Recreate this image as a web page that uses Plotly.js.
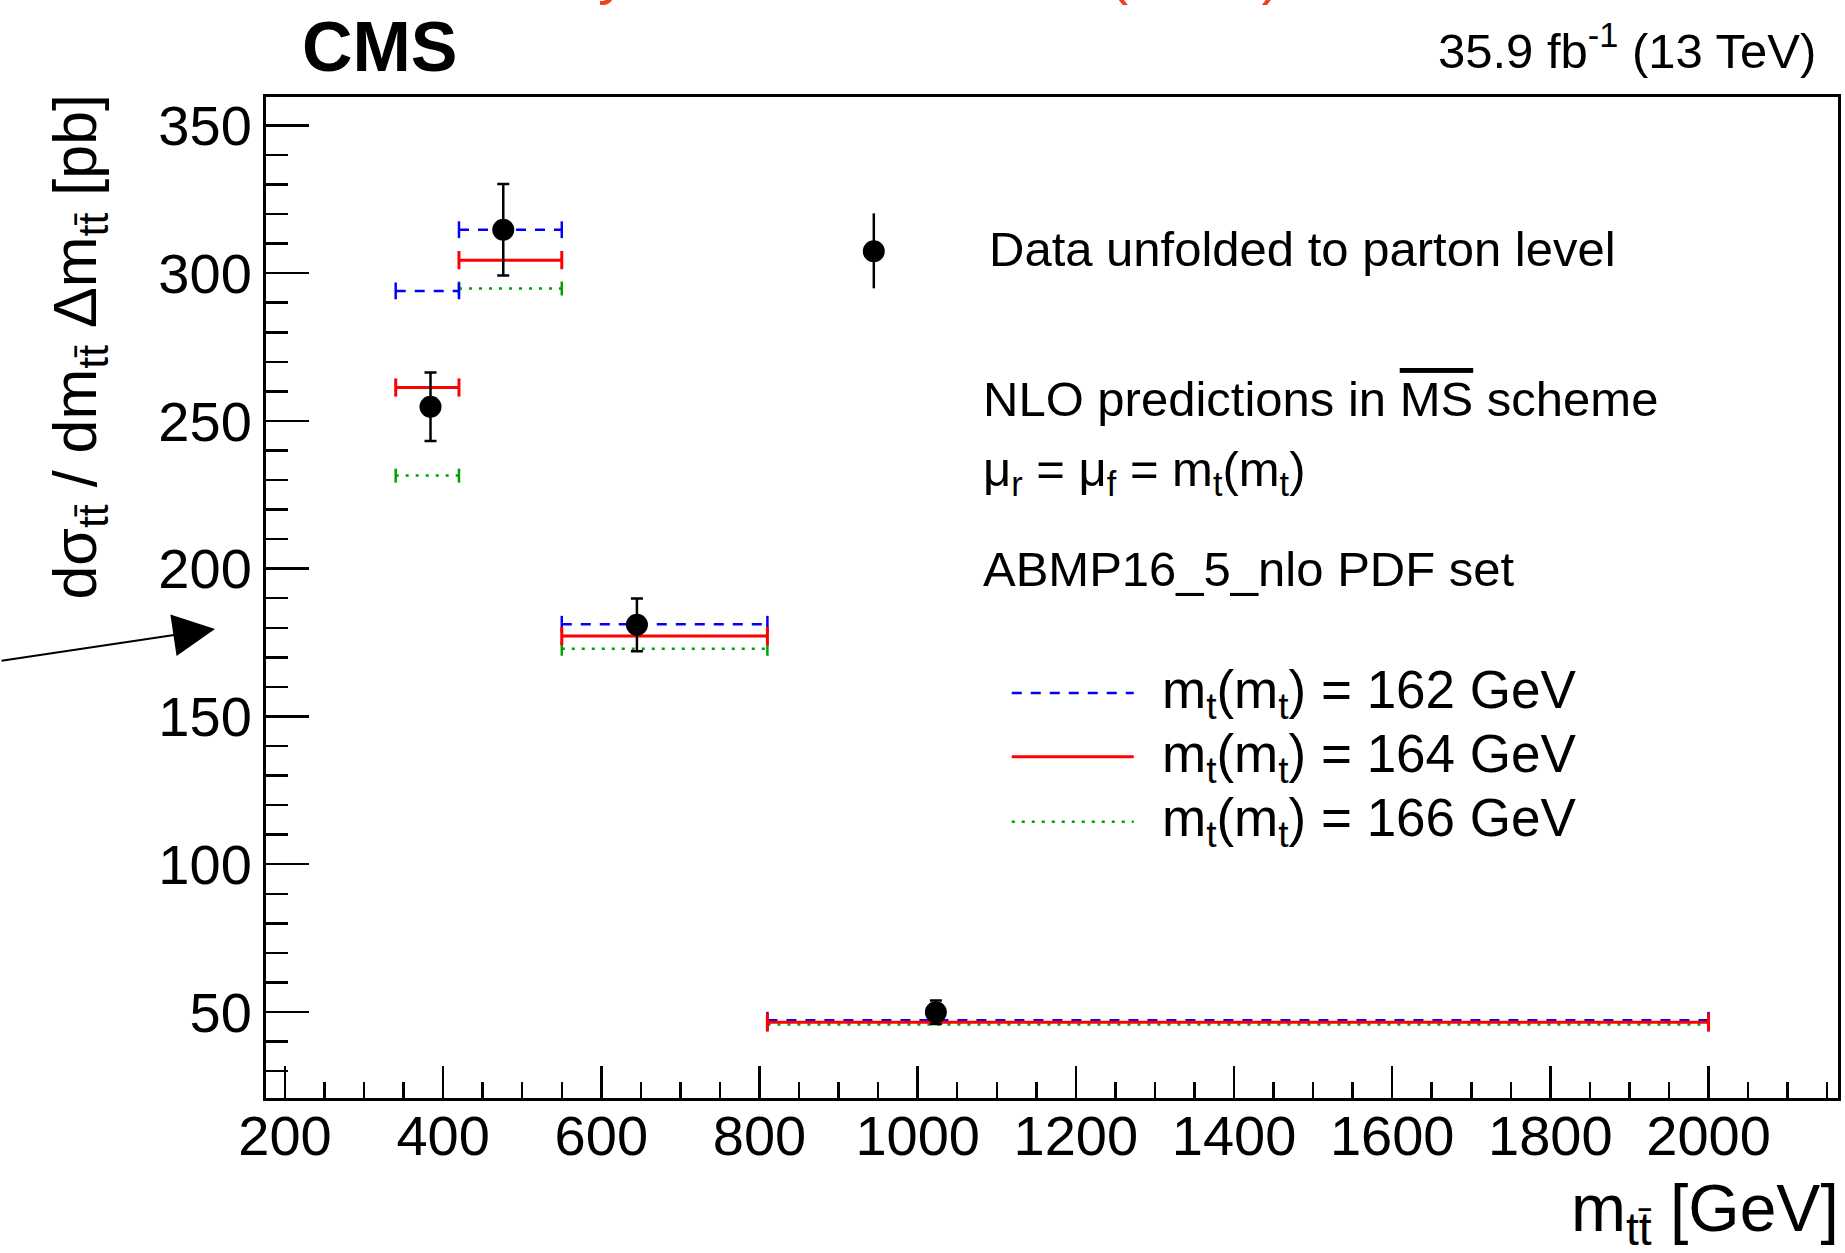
<!DOCTYPE html>
<html>
<head>
<meta charset="utf-8">
<script src="https://cdn.plot.ly/plotly-3.0.1.min.js"></script>
<style>
  html, body { margin: 0; padding: 0; background: #fff; }
  #chart { width: 1845px; height: 1253px; }
</style>
</head>
<body>
<div id="chart"></div>
<script>
// ---- data ----
const binLow  = [340, 420, 550, 810];
const binHigh = [420, 550, 810, 2000];
const dataX   = [384, 476, 645, 1023];
const dataY   = [254.8, 314.7, 181.0, 49.9];
const dataErr = [11.6, 15.5, 8.9, 4.0];
const pred162 = [294.0, 314.7, 181.2, 47.2];
const pred164 = [261.3, 304.4, 177.2, 46.5];
const pred166 = [231.5, 294.8, 172.9, 45.8];
const xTickVals = [200, 400, 600, 800, 1000, 1200, 1400, 1600, 1800, 2000];
const yTickVals = [50, 100, 150, 200, 250, 300, 350];

const FONT = 'Liberation Sans, Arial, Helvetica, sans-serif';
const TT = 't' + 't\u0304';

function binSegments(vals) {
  const xs = [], ys = [];
  for (let i = 0; i < vals.length; i++) {
    xs.push(binLow[i], binHigh[i], null);
    ys.push(vals[i], vals[i], null);
  }
  return {xs, ys};
}

function predTrace(vals, color, dash, width, capSize) {
  const s = binSegments(vals);
  return {
    type: 'scatter', mode: 'lines+markers', x: s.xs, y: s.ys,
    line: {color: color, width: width, dash: dash},
    marker: {symbol: 'line-ns-open', size: capSize, color: color, line: {color: color, width: width}},
    hoverinfo: 'skip', showlegend: false, cliponaxis: false
  };
}

const traces = [
  predTrace(pred166, '#00a000', '3px,7px', 2.5, 10),
  predTrace(pred162, '#0000ff', '10px,9px', 2.5, 12),
  predTrace(pred164, '#ff0000', 'solid', 3, 13),
  {
    type: 'scatter', mode: 'markers', x: dataX, y: dataY,
    marker: {symbol: 'circle', size: 22, color: '#000'},
    error_y: {type: 'data', array: dataErr, visible: true, color: '#000', thickness: 2.5, width: 6},
    hoverinfo: 'skip', showlegend: false
  }
];

// plot-area geometry (pixels) used for paper-coordinate placement of decorations
const L = 266, R = 1838.5, T = 96.5, B = 1098.5;
const px = X => (X - L) / (R - L);
const py = Y => (B - Y) / (B - T);

const annotations = [
  // truncated red heading at the very top of the picture
  {text: 'Sensitivity of cross sections (CMS)', xref: 'paper', yref: 'paper', x: px(356), y: py(7), xanchor: 'left', yanchor: 'bottom',
   showarrow: false, font: {family: FONT, size: 60, color: '#f0401c'}},
  {text: '<b>CMS</b>', xref: 'paper', yref: 'paper', x: px(300), y: py(46.5), xanchor: 'left', yanchor: 'middle',
   showarrow: false, font: {family: FONT, size: 70, color: '#000'}},
  {text: '35.9 fb<sup>-1</sup> (13 TeV)', xref: 'paper', yref: 'paper', x: px(1818), y: py(46), xanchor: 'right', yanchor: 'middle',
   showarrow: false, font: {family: FONT, size: 49, color: '#000'}},
  {text: 'd\u03c3<sub>' + TT + '</sub> / dm<sub>' + TT + '</sub> \u0394m<sub>' + TT + '</sub> [pb]', textangle: -90,
   xref: 'paper', yref: 'paper', x: px(79), y: py(91), xanchor: 'center', yanchor: 'top',
   showarrow: false, font: {family: FONT, size: 61, color: '#000'}},
  {text: 'm<sub>' + TT + '</sub> [GeV]', xref: 'paper', yref: 'paper', x: px(1842), y: py(1214), xanchor: 'right', yanchor: 'middle',
   showarrow: false, font: {family: FONT, size: 66, color: '#000'}},
  {text: 'Data unfolded to parton level', xref: 'paper', yref: 'paper', x: px(987), y: py(249), xanchor: 'left', yanchor: 'middle',
   showarrow: false, font: {family: FONT, size: 49, color: '#000'}},
  {text: 'NLO predictions in <span style="text-decoration:overline">MS</span> scheme', xref: 'paper', yref: 'paper', x: px(981), y: py(399), xanchor: 'left', yanchor: 'middle',
   showarrow: false, font: {family: FONT, size: 49, color: '#000'}},
  {text: '\u03bc<sub>r</sub> = \u03bc<sub>f</sub> = m<sub>t</sub>(m<sub>t</sub>)', xref: 'paper', yref: 'paper', x: px(981), y: py(472), xanchor: 'left', yanchor: 'middle',
   showarrow: false, font: {family: FONT, size: 49, color: '#000'}},
  {text: 'ABMP16_5_nlo PDF set', xref: 'paper', yref: 'paper', x: px(981), y: py(569), xanchor: 'left', yanchor: 'middle',
   showarrow: false, font: {family: FONT, size: 49, color: '#000'}},
  {text: 'm<sub>t</sub>(m<sub>t</sub>) = 162 GeV', xref: 'paper', yref: 'paper', x: px(1160), y: py(694), xanchor: 'left', yanchor: 'middle',
   showarrow: false, font: {family: FONT, size: 53, color: '#000'}},
  {text: 'm<sub>t</sub>(m<sub>t</sub>) = 164 GeV', xref: 'paper', yref: 'paper', x: px(1160), y: py(758), xanchor: 'left', yanchor: 'middle',
   showarrow: false, font: {family: FONT, size: 53, color: '#000'}},
  {text: 'm<sub>t</sub>(m<sub>t</sub>) = 166 GeV', xref: 'paper', yref: 'paper', x: px(1160), y: py(822), xanchor: 'left', yanchor: 'middle',
   showarrow: false, font: {family: FONT, size: 53, color: '#000'}},
  // pointer arrow on the left margin
  {text: '', xref: 'paper', yref: 'paper', x: px(215), y: py(629), ax: -215, ay: 32,
   showarrow: true, arrowhead: 2, arrowsize: 4.2, arrowwidth: 2, arrowcolor: '#000'}
];

const shapes = [
  // legend symbol for data
  {type: 'line', xref: 'paper', yref: 'paper', x0: px(874), x1: px(874), y0: py(213), y1: py(288), line: {color: '#000', width: 2.5}},
  {type: 'circle', xref: 'paper', yref: 'paper', x0: px(863), x1: px(885), y0: py(240), y1: py(262), fillcolor: '#000', line: {color: '#000', width: 0}},
  // legend symbols for predictions
  {type: 'line', xref: 'paper', yref: 'paper', x0: px(1012), x1: px(1134), y0: py(693), y1: py(693), line: {color: '#0000ff', width: 2.5, dash: '10px,9px'}},
  {type: 'line', xref: 'paper', yref: 'paper', x0: px(1012), x1: px(1134), y0: py(757), y1: py(757), line: {color: '#ff0000', width: 3}},
  {type: 'line', xref: 'paper', yref: 'paper', x0: px(1012), x1: px(1134), y0: py(822), y1: py(822), line: {color: '#00a000', width: 2.5, dash: '3px,7px'}}
];

const layout = {
  width: 1845, height: 1253,
  margin: {l: L, r: 1845 - R, t: T, b: 1253 - B, pad: 0},
  paper_bgcolor: '#fff', plot_bgcolor: '#fff',
  font: {family: FONT, color: '#000'},
  showlegend: false,
  xaxis: {
    range: [176.0, 2163.7], tickmode: 'array', tickvals: xTickVals, ticktext: xTickVals.map(String),
    ticks: 'inside', ticklen: 32, tickwidth: 2.5, tickcolor: '#000', ticklabelstandoff: -13,
    minor: {dtick: 50, tick0: 0, ticks: 'inside', ticklen: 16, tickwidth: 2.5, tickcolor: '#000', showgrid: false},
    showline: true, linewidth: 3, linecolor: '#000', mirror: true,
    showgrid: false, zeroline: false, tickfont: {family: FONT, size: 56, color: '#000'}
  },
  yaxis: {
    range: [20.9, 359.6], tickmode: 'array', tickvals: yTickVals, ticktext: yTickVals.map(String),
    ticks: 'inside', ticklen: 43, tickwidth: 2.5, tickcolor: '#000',
    minor: {dtick: 10, tick0: 0, ticks: 'inside', ticklen: 22, tickwidth: 2.5, tickcolor: '#000', showgrid: false},
    showline: true, linewidth: 3, linecolor: '#000', mirror: true,
    showgrid: false, zeroline: false, tickfont: {family: FONT, size: 56, color: '#000'}
  },
  annotations: annotations,
  shapes: shapes
};

Plotly.newPlot('chart', traces, layout, {displayModeBar: false, staticPlot: true});
</script>
</body>
</html>
